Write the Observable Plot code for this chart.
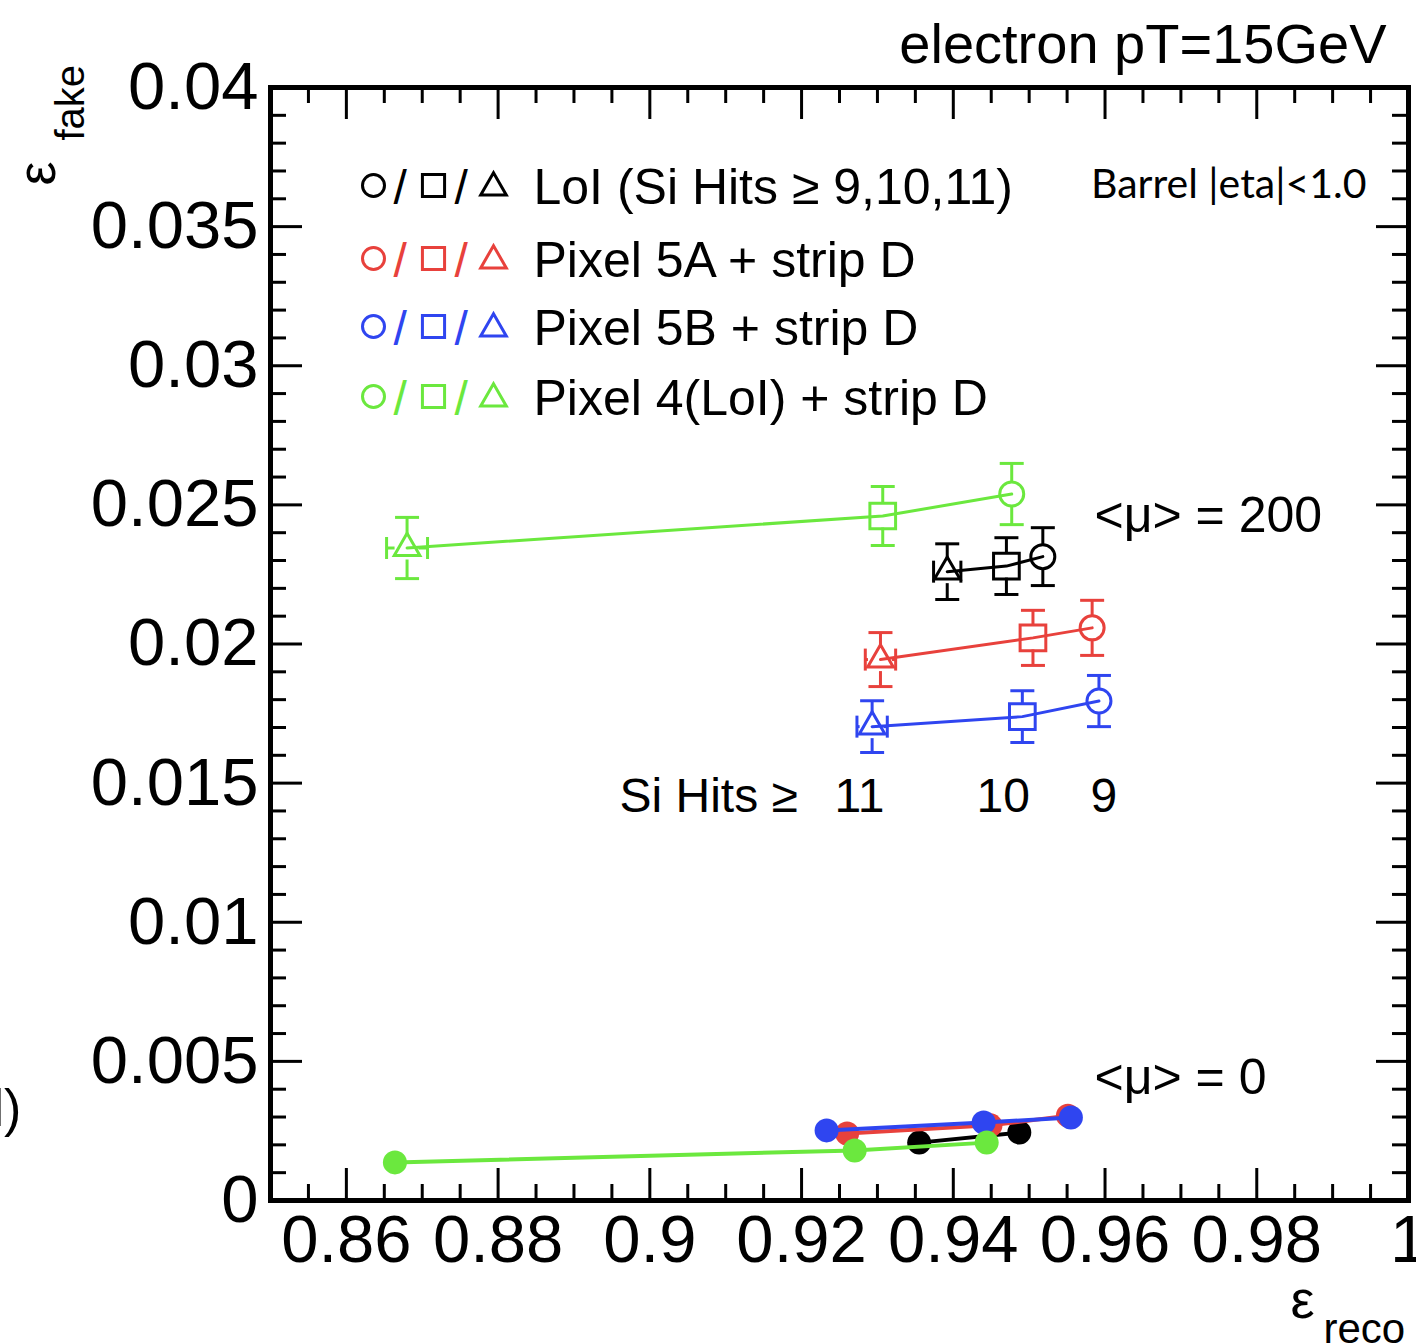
<!DOCTYPE html>
<html>
<head>
<meta charset="utf-8">
<script src="https://cdn.jsdelivr.net/npm/d3@7"></script>
<script src="https://cdn.jsdelivr.net/npm/@observablehq/plot@0.6"></script>
<style>
  html, body { margin: 0; padding: 0; background: #fff; }
  #chart svg { display: block; overflow: visible; }
</style>
</head>
<body>
<div id="chart"></div>
<script>
// ---------- data ----------
const seriesNames = ["LoI (Si Hits \u2265 9,10,11)", "Pixel 5A + strip D", "Pixel 5B + strip D", "Pixel 4(LoI) + strip D"];
const seriesColors = ["#000000", "#e8413c", "#2f45f0", "#6be83e"];
const siHits = [9, 10, 11];
const hitSymbols = ["circle", "square", "triangle"];

// <mu> = 200, ordered by Si Hits >= 9, 10, 11
const mu200_LoI_x   = [0.9518, 0.9470, 0.9392];
const mu200_LoI_y   = [0.02314, 0.02280, 0.02260];
const mu200_LoI_ey  = [0.00104, 0.00102, 0.00100];
const mu200_LoI_ex  = [0, 0, 0.0018];

const mu200_P5A_x   = [0.9583, 0.9505, 0.9304];
const mu200_P5A_y   = [0.02058, 0.02022, 0.01944];
const mu200_P5A_ey  = [0.00099, 0.00099, 0.00097];
const mu200_P5A_ex  = [0, 0, 0.0020];

const mu200_P5B_x   = [0.9592, 0.9491, 0.9293];
const mu200_P5B_y   = [0.01795, 0.01739, 0.01703];
const mu200_P5B_ey  = [0.00092, 0.00093, 0.00093];
const mu200_P5B_ex  = [0, 0, 0.0020];

const mu200_P4_x    = [0.9477, 0.9307, 0.8680];
const mu200_P4_y    = [0.02539, 0.02460, 0.02345];
const mu200_P4_ey   = [0.00110, 0.00106, 0.00110];
const mu200_P4_ex   = [0, 0, 0.0027];

// <mu> = 0 (filled circles)
const mu0_LoI_x = [0.9487, 0.9355];
const mu0_LoI_y = [0.00244, 0.00208];
const mu0_P5A_x = [0.9551, 0.9449, 0.9260];
const mu0_P5A_y = [0.00305, 0.00270, 0.00241];
const mu0_P5B_x = [0.9555, 0.9440, 0.9233];
const mu0_P5B_y = [0.00298, 0.00280, 0.00252];
const mu0_P4_x  = [0.9444, 0.9270, 0.8664];
const mu0_P4_y  = [0.00208, 0.00180, 0.00137];

// axes
const xMajorTicks = [0.86, 0.88, 0.90, 0.92, 0.94, 0.96, 0.98, 1.00];
const xMinorTicks = d3.range(0, 30).map(i => +(0.85 + i * 0.005).toFixed(3)).filter(v => v > 0.85 && v < 1.0);
const yMajorTicks = [0, 0.005, 0.01, 0.015, 0.02, 0.025, 0.03, 0.035, 0.04];
const yMinorTicks = d3.range(1, 40).map(i => +(i * 0.001).toFixed(3));

// ---------- assemble ----------
const mu200Sets = [
  [mu200_LoI_x, mu200_LoI_y, mu200_LoI_ey, mu200_LoI_ex],
  [mu200_P5A_x, mu200_P5A_y, mu200_P5A_ey, mu200_P5A_ex],
  [mu200_P5B_x, mu200_P5B_y, mu200_P5B_ey, mu200_P5B_ex],
  [mu200_P4_x,  mu200_P4_y,  mu200_P4_ey,  mu200_P4_ex]
];
const mu0Sets = [
  [mu0_LoI_x, mu0_LoI_y],
  [mu0_P5A_x, mu0_P5A_y],
  [mu0_P5B_x, mu0_P5B_y],
  [mu0_P4_x,  mu0_P4_y]
];
const mu200 = [];
mu200Sets.forEach(([xs, ys, eys, exs], s) => {
  xs.forEach((x, i) => mu200.push({
    s, color: seriesColors[s], hits: siHits[i], sym: hitSymbols[i],
    x, y: ys[i], ey: eys[i], ex: exs[i]
  }));
});
const mu0 = [];
mu0Sets.forEach(([xs, ys], s) => {
  xs.forEach((x, i) => mu0.push({s, color: seriesColors[s], x, y: ys[i]}));
});

// ---------- layout ----------
const W = 1416, H = 1344;
const mL = 270, mR = 8, mT = 87, mB = 144;
const pW = W - mL - mR, pH = H - mT - mB;
const majorLen = 32, minorLen = 16;
const half = 12; // marker half-size (px) where error bars start
const FONT = "'Liberation Sans', Arial, Helvetica, sans-serif";

const capH = {draw(ctx, size) { const w = Math.sqrt(size / Math.PI); ctx.moveTo(-w, 0); ctx.lineTo(w, 0); }};
const capV = {draw(ctx, size) { const w = Math.sqrt(size / Math.PI); ctx.moveTo(0, -w); ctx.lineTo(0, w); }};

const marks = [];

// inward ticks on all four sides
const tk = (len) => pH - len, tkx = (len) => pW - len;
const xMinorOnly = xMinorTicks.filter(v => !xMajorTicks.some(m => Math.abs(m - v) < 1e-9));
const yMinorOnly = yMinorTicks.filter(v => !yMajorTicks.some(m => Math.abs(m - v) < 1e-9));
marks.push(
  Plot.ruleX(xMajorTicks, {x: d => d, insetTop: tk(majorLen), strokeWidth: 3}),
  Plot.ruleX(xMinorOnly, {x: d => d, insetTop: tk(minorLen), strokeWidth: 3}),
  Plot.ruleX(xMajorTicks, {x: d => d, insetBottom: tk(majorLen), strokeWidth: 3}),
  Plot.ruleX(xMinorOnly, {x: d => d, insetBottom: tk(minorLen), strokeWidth: 3}),
  Plot.ruleY(yMajorTicks, {y: d => d, insetRight: tkx(majorLen), strokeWidth: 3}),
  Plot.ruleY(yMinorOnly, {y: d => d, insetRight: tkx(minorLen), strokeWidth: 3}),
  Plot.ruleY(yMajorTicks, {y: d => d, insetLeft: tkx(majorLen), strokeWidth: 3}),
  Plot.ruleY(yMinorOnly, {y: d => d, insetLeft: tkx(minorLen), strokeWidth: 3})
);

// axis labels
marks.push(
  Plot.axisX({ticks: xMajorTicks, tickSize: 0, tickPadding: 14, fontSize: 67, label: null,
    tickFormat: d => String(+d.toFixed(2)), fontFamily: FONT}),
  Plot.axisY({ticks: yMajorTicks, tickSize: 0, tickPadding: 12, fontSize: 67, label: null,
    tickFormat: d => String(+d.toFixed(3)), fontFamily: FONT})
);

// <mu> = 0 series
mu0Sets.forEach((_, s) => {
  const d = mu0.filter(p => p.s === s);
  marks.push(
    Plot.line(d, {x: "x", y: "y", stroke: "color", strokeWidth: 4}),
    Plot.dot(d, {x: "x", y: "y", fill: "color", r: 12, stroke: "none"})
  );
});

// <mu> = 200 series
mu200Sets.forEach((_, s) => {
  const d = mu200.filter(p => p.s === s);
  const dx = d.filter(p => p.ex > 0);
  marks.push(
    Plot.line(d, {x: "x", y: "y", stroke: "color", strokeWidth: 3}),
    // vertical error bars (outside marker)
    Plot.ruleX(d, {x: "x", y1: p => p.y + p.ey, y2: "y", insetBottom: half, stroke: "color", strokeWidth: 3}),
    Plot.ruleX(d, {x: "x", y1: "y", y2: p => p.y - p.ey, insetTop: half, stroke: "color", strokeWidth: 3}),
    Plot.dot(d, {x: "x", y: p => p.y + p.ey, symbol: capH, r: 12, stroke: "color", strokeWidth: 3}),
    Plot.dot(d, {x: "x", y: p => p.y - p.ey, symbol: capH, r: 12, stroke: "color", strokeWidth: 3}),
    // horizontal error bars
    Plot.ruleY(dx, {y: "y", x1: p => p.x - p.ex, x2: "x", insetRight: half, stroke: "color", strokeWidth: 3}),
    Plot.ruleY(dx, {y: "y", x1: "x", x2: p => p.x + p.ex, insetLeft: half, stroke: "color", strokeWidth: 3}),
    Plot.dot(dx, {x: p => p.x - p.ex, y: "y", symbol: capV, r: 11, stroke: "color", strokeWidth: 3}),
    Plot.dot(dx, {x: p => p.x + p.ex, y: "y", symbol: capV, r: 11, stroke: "color", strokeWidth: 3}),
    // markers
    Plot.dot(d.filter(p => p.sym === "circle"), {x: "x", y: "y", symbol: "circle", r: 12, stroke: "color", fill: "none", strokeWidth: 3}),
    Plot.dot(d.filter(p => p.sym === "square"), {x: "x", y: "y", symbol: "square", r: 14.5, stroke: "color", fill: "none", strokeWidth: 3}),
    Plot.dot(d.filter(p => p.sym === "triangle"), {x: "x", y: "y", symbol: "triangle", r: 9.5, stroke: "color", fill: "none", strokeWidth: 3})
  );
});

// frame
marks.push(Plot.frame({strokeWidth: 5}));

// texts (positioned relative to the frame's top-left corner)
const T = (str, X, Y, opts = {}) => Plot.text([str], {
  text: d => d, frameAnchor: "top-left", dx: X - mL, dy: Y - mT,
  lineAnchor: "bottom", textAnchor: "start", fontFamily: FONT, fill: "black", ...opts
});

// title & axis titles
marks.push(
  T("electron pT=15GeV", 1386, 62, {textAnchor: "end", fontSize: 56}),
  T("\u03b5", 1290, 1317, {fontSize: 54}),
  T("reco", 1323, 1342, {fontSize: 42}),
  T("\u03b5", 54, 185, {fontSize: 54, rotate: -90}),
  T("fake", 83, 140, {fontSize: 40, rotate: -90}),
  T("l)", -8, 1125, {fontSize: 52})
);

// legend
const legendRows = [185, 258, 326, 396];
const legendBase = [203, 276, 344, 414];
seriesNames.forEach((name, s) => {
  const cy = legendRows[s];
  const c = seriesColors[s];
  marks.push(
    Plot.dot([0], {frameAnchor: "top-left", dx: 373 - mL, dy: cy - mT, symbol: "circle", r: 11, stroke: c, strokeWidth: 3, fill: "none"}),
    Plot.dot([0], {frameAnchor: "top-left", dx: 433 - mL, dy: cy - mT, symbol: "square", r: 12.5, stroke: c, strokeWidth: 3, fill: "none"}),
    Plot.dot([0], {frameAnchor: "top-left", dx: 493 - mL, dy: cy + 2 - mT, symbol: "triangle", r: 9.5, stroke: c, strokeWidth: 3, fill: "none"}),
    T("/", 393, cy + 18, {fontSize: 48, fill: c}),
    T("/", 454, cy + 18, {fontSize: 48, fill: c}),
    T(name, 533, legendBase[s], {fontSize: 50})
  );
});

// annotations
marks.push(
  T("Barrel |eta|<1.0", 1366, 197, {textAnchor: "end", fontSize: 41, fontFamily: "Lato, 'Open Sans', sans-serif"}),
  T("<\u03bc> = 200", 1094, 531, {fontSize: 50}),
  T("<\u03bc> = 0", 1094, 1093, {fontSize: 50}),
  T("Si Hits \u2265", 619, 811, {fontSize: 48}),
  T("11", 834, 811, {fontSize: 48}),
  T("10", 976, 811, {fontSize: 48}),
  T("9", 1090, 811, {fontSize: 48})
);

const chart = Plot.plot({
  width: W, height: H,
  marginLeft: mL, marginRight: mR, marginTop: mT, marginBottom: mB,
  x: {domain: [0.85, 1.0]},
  y: {domain: [0, 0.04]},
  color: {type: "identity"},
  style: {fontFamily: FONT, background: "white", color: "black"},
  marks
});
document.getElementById("chart").appendChild(chart);
</script>
</body>
</html>
